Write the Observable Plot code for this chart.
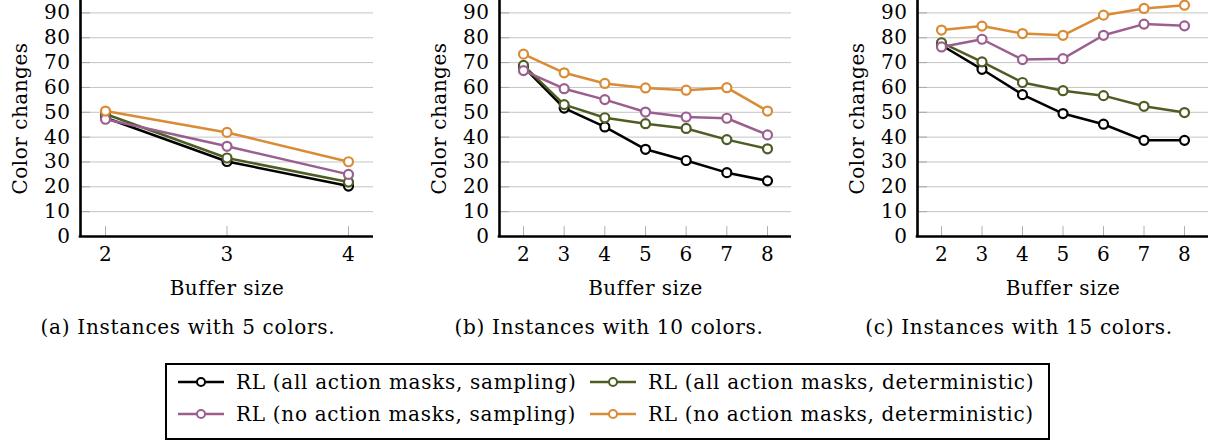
<!DOCTYPE html>
<html>
<head>
<meta charset="utf-8">
<script src="https://cdn.jsdelivr.net/npm/d3@7"></script>
<script src="https://cdn.jsdelivr.net/npm/@observablehq/plot@0.6"></script>
<style>
  html, body { margin: 0; padding: 0; background: #fff; }
  #root { position: relative; width: 1219px; height: 442px; overflow: hidden; font-family: "DejaVu Serif", serif; color: #000; }
  .panel { position: absolute; top: 0; }
  .panel svg { overflow: visible; }
  .caption { position: absolute; top: 315px; font-size: 20px; letter-spacing: 0.7px; white-space: nowrap; transform: translateX(-50%); }
  #legend { position: absolute; left: 165px; top: 363px; width: 881px; height: 73px; border: 2px solid #000; }
  .item { position: absolute; display: flex; align-items: center; font-size: 20px; letter-spacing: 0.7px; white-space: nowrap; }
  .item svg { margin-right: 12px; }
</style>
</head>
<body>
<div id="root"></div>
<script>
// ---- data ----
const seriesNames = [
  "RL (all action masks, sampling)",
  "RL (all action masks, deterministic)",
  "RL (no action masks, sampling)",
  "RL (no action masks, deterministic)"
];
const seriesColors = ["#000000", "#4e5d24", "#9b5f8f", "#d98b35"];

const xTicksA = [2, 3, 4];
const xTicksBC = [2, 3, 4, 5, 6, 7, 8];
const yTicks = [0, 10, 20, 30, 40, 50, 60, 70, 80, 90];

// (a) 5 colors
const a_allSampling      = [47.8, 30.2, 20.3];
const a_allDeterministic = [49.3, 31.6, 21.9];
const a_noSampling       = [47.2, 36.3, 25.0];
const a_noDeterministic  = [50.5, 41.9, 30.1];
// (b) 10 colors
const b_allSampling      = [68.3, 51.7, 44.1, 35.1, 30.6, 25.7, 22.4];
const b_allDeterministic = [68.9, 53.1, 47.8, 45.4, 43.5, 39.0, 35.3];
const b_noSampling       = [66.8, 59.5, 55.1, 50.1, 48.1, 47.6, 40.9];
const b_noDeterministic  = [73.4, 65.9, 61.6, 59.8, 58.9, 59.9, 50.5];
// (c) 15 colors
const c_allSampling      = [77.0, 67.3, 57.1, 49.5, 45.2, 38.7, 38.7];
const c_allDeterministic = [78.0, 70.3, 62.0, 58.7, 56.7, 52.4, 49.9];
const c_noSampling       = [76.3, 79.4, 71.2, 71.6, 81.0, 85.5, 84.8];
const c_noDeterministic  = [83.1, 84.7, 81.7, 81.0, 89.1, 91.8, 93.1];

const captions = ["(a) Instances with 5 colors.", "(b) Instances with 10 colors.", "(c) Instances with 15 colors."];
const xLabel = "Buffer size";
const yLabel = "Color changes";

// ---- helpers ----
function toRows(xs, seriesArrays) {
  const rows = [];
  seriesArrays.forEach((vals, i) => {
    vals.forEach((v, j) => rows.push({series: seriesNames[i], x: xs[j], y: v}));
  });
  return rows;
}

function panel({xs, series, width, ml, mr, inset}) {
  const height = 300, mb = 64, mt = 0;
  const frameW = width - ml - mr;
  const frameH = height - mt - mb;
  const rows = toRows(xs, series);
  const marks = [
    Plot.ruleY(yTicks.filter(d => d > 0), {stroke: "#c4c4c4", strokeWidth: 1}),
    Plot.ruleY(yTicks.filter(d => d > 0), {stroke: "#a8a8a8", strokeWidth: 1, insetRight: frameW - 10}),
    Plot.ruleX(xs, {stroke: "#b0b0b0", strokeWidth: 1, insetTop: frameH - 10}),
    Plot.axisY({ticks: yTicks, tickSize: 0, tickPadding: 10, label: null, fontSize: 20}),
    Plot.axisX({ticks: xs, tickSize: 0, tickPadding: 10, tickFormat: d => String(d), label: null, fontSize: 20}),
    Plot.text([yLabel], {frameAnchor: "left", textAnchor: "middle", lineAnchor: "middle", dx: -60, rotate: -90, fontSize: 20, style: "letter-spacing:0.7px"}),
    Plot.text([xLabel], {frameAnchor: "bottom", textAnchor: "middle", lineAnchor: "middle", dy: 52, fontSize: 20})
  ];
  seriesNames.forEach(name => {
    const d = rows.filter(r => r.series === name);
    marks.push(Plot.line(d, {x: "x", y: "y", stroke: "series", strokeWidth: 2.5, strokeLinejoin: "round"}));
    marks.push(Plot.dot(d, {x: "x", y: "y", stroke: "series", fill: "white", r: 4.5, strokeWidth: 2.2}));
  });
  marks.push(Plot.ruleY([0], {stroke: "#000", strokeWidth: 2.6, insetLeft: -1.3}));
  marks.push(Plot.ruleX([xs[0]], {dx: -inset, stroke: "#000", strokeWidth: 2.6}));
  return Plot.plot({
    width, height,
    marginLeft: ml, marginRight: mr, marginTop: mt, marginBottom: mb,
    x: {domain: [xs[0], xs[xs.length - 1]], insetLeft: inset, insetRight: inset},
    y: {domain: [0, 95]},
    color: {domain: seriesNames, range: seriesColors},
    style: {fontFamily: "DejaVu Serif", fontSize: "20px", color: "#000", background: "transparent", overflow: "visible", letterSpacing: "0.5px"},
    marks
  });
}

const root = document.getElementById("root");
const specs = [
  {left: 0,   xs: xTicksA,  series: [a_allSampling, a_allDeterministic, a_noSampling, a_noDeterministic], width: 400, ml: 80,  mr: 27, inset: 25},
  {left: 400, xs: xTicksBC, series: [b_allSampling, b_allDeterministic, b_noSampling, b_noDeterministic], width: 410, ml: 99,  mr: 19, inset: 24},
  {left: 810, xs: xTicksBC, series: [c_allSampling, c_allDeterministic, c_noSampling, c_noDeterministic], width: 409, ml: 107, mr: 11, inset: 24}
];
specs.forEach(s => {
  const div = document.createElement("div");
  div.className = "panel";
  div.style.left = s.left + "px";
  div.appendChild(panel(s));
  root.appendChild(div);
});

const captionCenters = [188, 609, 1019];
captions.forEach((c, i) => {
  const el = document.createElement("div");
  el.className = "caption";
  el.style.left = captionCenters[i] + "px";
  el.textContent = c;
  root.appendChild(el);
});

// legend
const legend = document.createElement("div");
legend.id = "legend";
root.appendChild(legend);
const itemPos = [[11, 5], [423, 5], [11, 37], [423, 37]];
seriesNames.forEach((name, i) => {
  const item = document.createElement("div");
  item.className = "item";
  item.style.left = itemPos[i][0] + "px";
  item.style.top = itemPos[i][1] + "px";
  const ns = "http://www.w3.org/2000/svg";
  const svg = document.createElementNS(ns, "svg");
  svg.setAttribute("width", 46); svg.setAttribute("height", 24);
  const line = document.createElementNS(ns, "line");
  line.setAttribute("x1", 0); line.setAttribute("x2", 46); line.setAttribute("y1", 12); line.setAttribute("y2", 12);
  line.setAttribute("stroke", seriesColors[i]); line.setAttribute("stroke-width", 2.5);
  const circ = document.createElementNS(ns, "circle");
  circ.setAttribute("cx", 23); circ.setAttribute("cy", 12); circ.setAttribute("r", 4);
  circ.setAttribute("fill", "white"); circ.setAttribute("stroke", seriesColors[i]); circ.setAttribute("stroke-width", 2);
  svg.appendChild(line); svg.appendChild(circ);
  const span = document.createElement("span");
  span.textContent = name;
  item.appendChild(svg); item.appendChild(span);
  legend.appendChild(item);
});
</script>
</body>
</html>
